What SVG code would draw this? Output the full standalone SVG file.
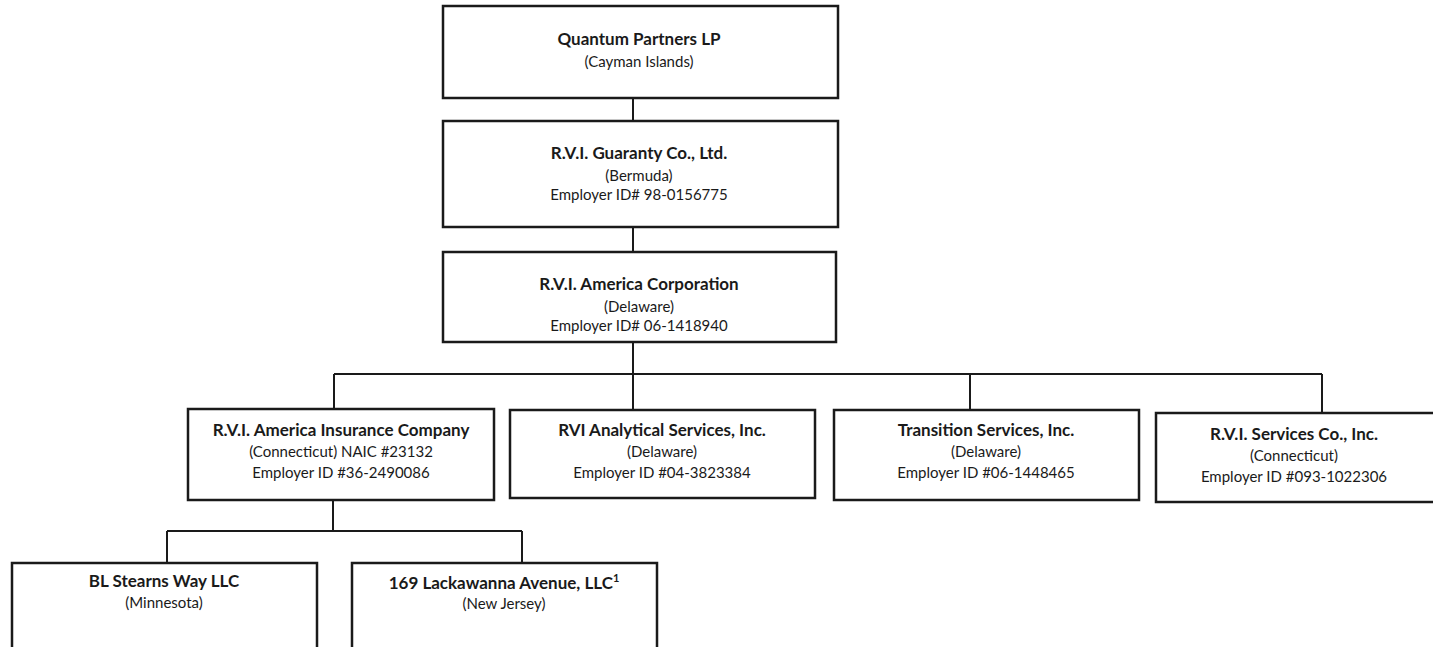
<svg xmlns="http://www.w3.org/2000/svg" width="1433" height="647" viewBox="0 0 1433 647">
<style>
.box{fill:#fff;stroke:#1a1a1a;stroke-width:2.5}
.ln{stroke:#1a1a1a;stroke-width:2;fill:none}
text{font-family:Lato,"Open Sans","Liberation Sans",sans-serif;fill:#1a1a1a;text-anchor:middle}
.b{font-weight:bold;font-size:17px}
.r{font-size:15px}
</style>
<rect width="1433" height="647" fill="#fff"/>
<g id="connectors">
<path class="ln" d="M633,98V121M633,227V252M633,342V410M334,374H1322M334,374V409M970,374V410M1322,374V413M333,500V531M167,531H522M167,531V563M522,531V563"/>
</g>
<g id="n1"><rect class="box" x="443" y="6" width="395" height="92"/>
<text class="b" x="639" y="45">Quantum Partners LP</text>
<text class="r" x="639" y="67">(Cayman Islands)</text></g>
<g id="n2"><rect class="box" x="443" y="121" width="395" height="106"/>
<text class="b" x="639" y="159">R.V.I. Guaranty Co., Ltd.</text>
<text class="r" x="639" y="181">(Bermuda)</text>
<text class="r" x="639" y="200">Employer ID# 98-0156775</text></g>
<g id="n3"><rect class="box" x="443" y="252" width="393" height="90"/>
<text class="b" x="639" y="290">R.V.I. America Corporation</text>
<text class="r" x="639" y="312">(Delaware)</text>
<text class="r" x="639" y="331">Employer ID# 06-1418940</text></g>
<g id="n4"><rect class="box" x="188" y="409" width="306" height="91"/>
<text class="b" x="341" y="436">R.V.I. America Insurance Company</text>
<text class="r" x="341" y="457">(Connecticut) NAIC #23132</text>
<text class="r" x="341" y="478">Employer ID #36-2490086</text></g>
<g id="n5"><rect class="box" x="510" y="410" width="305" height="88"/>
<text class="b" x="662" y="436">RVI Analytical Services, Inc.</text>
<text class="r" x="662" y="457">(Delaware)</text>
<text class="r" x="662" y="478">Employer ID #04-3823384</text></g>
<g id="n6"><rect class="box" x="834" y="410" width="305" height="90"/>
<text class="b" x="986" y="436">Transition Services, Inc.</text>
<text class="r" x="986" y="457">(Delaware)</text>
<text class="r" x="986" y="478">Employer ID #06-1448465</text></g>
<g id="n7"><rect class="box" x="1156" y="413" width="290" height="89"/>
<text class="b" x="1294" y="440">R.V.I. Services Co., Inc.</text>
<text class="r" x="1294" y="461">(Connecticut)</text>
<text class="r" x="1294" y="482">Employer ID #093-1022306</text></g>
<g id="n8"><rect class="box" x="12" y="563" width="305" height="100"/>
<text class="b" x="164" y="587">BL Stearns Way LLC</text>
<text class="r" x="164" y="608">(Minnesota)</text></g>
<g id="n9"><rect class="box" x="352" y="563" width="305" height="100"/>
<text class="b" x="504" y="589">169 Lackawanna Avenue, LLC<tspan font-size="11" dy="-7">1</tspan></text>
<text class="r" x="504" y="609">(New Jersey)</text></g>
</svg>
